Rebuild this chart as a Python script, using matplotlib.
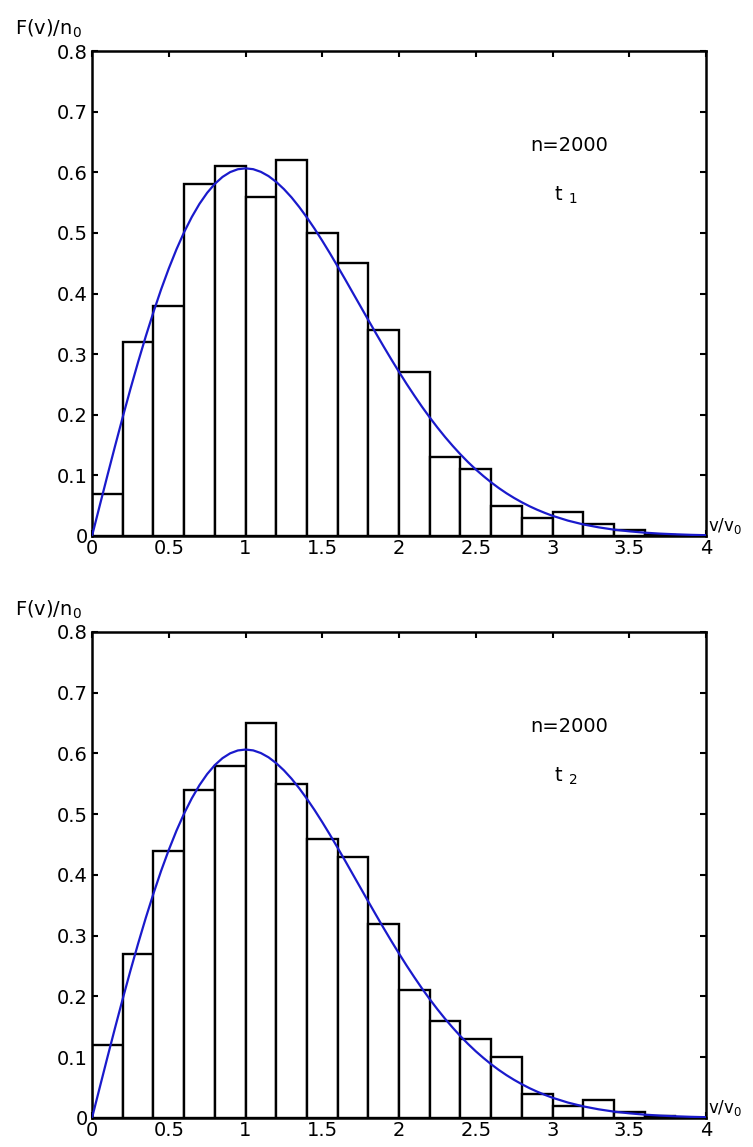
import numpy as np
import matplotlib
matplotlib.use('Agg')
import matplotlib.pyplot as plt

plt.rcParams['font.family'] = ['DejaVu Sans']
plt.rcParams['mathtext.default'] = 'regular'

# histogram bins (v/v0), width 0.2
bin_edges = [0.0, 0.2, 0.4, 0.6, 0.8, 1.0, 1.2, 1.4, 1.6, 1.8, 2.0,
             2.2, 2.4, 2.6, 2.8, 3.0, 3.2, 3.4, 3.6, 3.8, 4.0]
heights_t1 = [0.07, 0.32, 0.38, 0.58, 0.61, 0.56, 0.62, 0.50, 0.45, 0.34,
              0.27, 0.13, 0.11, 0.05, 0.03, 0.04, 0.02, 0.01, 0.002, 0.0]
heights_t2 = [0.12, 0.27, 0.44, 0.54, 0.58, 0.65, 0.55, 0.46, 0.43, 0.32,
              0.21, 0.16, 0.13, 0.10, 0.04, 0.02, 0.03, 0.01, 0.004, 0.0]

# theoretical curve
curve_v = [0.0, 0.05, 0.1, 0.15, 0.2, 0.25, 0.3, 0.35, 0.4, 0.45, 0.5, 0.55, 0.6, 0.65,
           0.7, 0.75, 0.8, 0.85, 0.9, 0.95, 1.0, 1.05, 1.1, 1.15, 1.2, 1.25, 1.3, 1.35,
           1.4, 1.45, 1.5, 1.55, 1.6, 1.65, 1.7, 1.75, 1.8, 1.85, 1.9, 1.95, 2.0, 2.05,
           2.1, 2.15, 2.2, 2.25, 2.3, 2.35, 2.4, 2.45, 2.5, 2.55, 2.6, 2.65, 2.7, 2.75,
           2.8, 2.85, 2.9, 2.95, 3.0, 3.1, 3.2, 3.3, 3.4, 3.5, 3.6, 3.7, 3.8, 3.9, 4.0]
curve_f = [0.0, 0.0499, 0.0995, 0.1483, 0.196, 0.2423, 0.2868, 0.3292, 0.3692, 0.4067,
           0.4412, 0.4728, 0.5012, 0.5262, 0.5479, 0.5661, 0.5809, 0.5923, 0.6003, 0.605,
           0.6065, 0.6051, 0.6007, 0.5937, 0.5841, 0.5723, 0.5585, 0.5427, 0.5254, 0.5068,
           0.487, 0.4663, 0.4448, 0.423, 0.4007, 0.3785, 0.3562, 0.3342, 0.3125, 0.2913,
           0.2707, 0.2507, 0.2316, 0.2131, 0.1956, 0.179, 0.1633, 0.1486, 0.1347, 0.1218,
           0.1098, 0.0988, 0.0885, 0.0791, 0.0705, 0.0627, 0.0556, 0.0491, 0.0433, 0.0381,
           0.0333, 0.0254, 0.0191, 0.0143, 0.0105, 0.0077, 0.0055, 0.0039, 0.0028, 0.0019,
           0.0013]

panels = [(heights_t1, '1'), (heights_t2, '2')]
x_ticks = [0, 0.5, 1, 1.5, 2, 2.5, 3, 3.5, 4]
x_ticklabels = ['0', '0.5', '1', '1.5', '2', '2.5', '3', '3.5', '4']
y_ticks = [0, 0.1, 0.2, 0.3, 0.4, 0.5, 0.6, 0.7, 0.8]
y_ticklabels = ['0', '0.1', '0.2', '0.3', '0.4', '0.5', '0.6', '0.7', '0.8']

fig = plt.figure(figsize=(7.53, 11.47), dpi=100)
positions = [[0.1222, 0.5327, 0.8154, 0.4228], [0.1222, 0.0253, 0.8154, 0.4237]]
fs = 14

for pos, (heights, sub) in zip(positions, panels):
    ax = fig.add_axes(pos)
    edges = np.array(bin_edges)
    ax.bar(edges[:-1], heights, width=np.diff(edges), align='edge',
           facecolor='white', edgecolor='black', linewidth=1.7, zorder=2)
    ax.plot(curve_v, curve_f, color='#1a1acc', linewidth=1.6, zorder=3)
    ax.set_xlim(0, 4)
    ax.set_ylim(0, 0.8)
    ax.set_xticks(x_ticks)
    ax.set_xticklabels(x_ticklabels)
    ax.set_yticks(y_ticks)
    ax.set_yticklabels(y_ticklabels)
    ax.tick_params(direction='in', length=4, width=1.5, labelsize=fs,
                   top=True, right=True, pad=3)
    ax.tick_params(axis='x', pad=2)
    for s in ax.spines.values():
        s.set_linewidth(1.8)
    ax.text(-0.125, 1.045, 'F(v)/n$_0$', transform=ax.transAxes,
            ha='left', va='center', fontsize=fs)
    ax.text(4.015, 0.017, 'v/v$_0$', ha='left', va='center', fontsize=12,
            clip_on=False)
    ax.text(0.777, 0.806, 'n=2000', transform=ax.transAxes,
            ha='center', va='center', fontsize=fs)
    ax.text(0.752, 0.703, 't $_' + sub + '$', transform=ax.transAxes,
            ha='left', va='center', fontsize=fs)

fig.savefig('out.png', dpi=100)
